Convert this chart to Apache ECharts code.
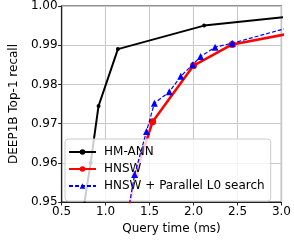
<!DOCTYPE html>
<html><head><meta charset="utf-8">
<script src="https://cdn.jsdelivr.net/npm/echarts@6/dist/echarts.min.js"></script>
<style>html,body{margin:0;padding:0;background:#fff}#c{width:294px;height:241px}</style>
</head><body><div id="c"></div>
<script>
const xTicks = [0.5, 1.0, 1.5, 2.0, 2.5, 3.0];
const yTicks = [0.95, 0.96, 0.97, 0.98, 0.99, 1.00];
const seriesNames = ['HM-ANN', 'HNSW', 'HNSW + Parallel L0 search'];
const hmannX = [0.74, 0.83, 0.92, 1.14, 2.12, 3.1];
const hmannY = [0.947, 0.960, 0.9745, 0.989, 0.995, 0.9973];
const hnswX = [1.26, 1.34, 1.535, 2.0, 2.44, 3.1];
const hnswY = [0.948, 0.957, 0.9705, 0.9848, 0.9902, 0.9930];
const parX = [1.26, 1.33, 1.465, 1.555, 1.725, 1.855, 1.99, 2.08, 2.245, 2.44, 3.1];
const parY = [0.948, 0.957, 0.968, 0.9752, 0.9781, 0.9821, 0.985, 0.9871, 0.9895, 0.9905, 0.9946];

const zip = (a, b) => a.map((v, i) => [v, b[i]]);
const font = 'DejaVu Sans';
const chart = echarts.init(document.getElementById('c'), null, {renderer: 'canvas'});
chart.setOption({
  animation: false,
  grid: {left: 58, right: 6, top: 6, bottom: 39, show: true, borderColor: '#222', borderWidth: 1.2},
  xAxis: {
    type: 'value', min: 0.5, max: 3.0, interval: 0.5,
    name: 'Query time (ms)', nameLocation: 'middle', nameGap: 18,
    nameTextStyle: {fontFamily: font, fontSize: 12, color: '#000'},
    axisLine: {show: true, lineStyle: {color: '#222', width: 1.2}},
    axisTick: {show: true, length: 3.5, lineStyle: {color: '#222'}},
    axisLabel: {fontFamily: font, fontSize: 12, color: '#000', margin: 4, formatter: v => v.toFixed(1)},
    splitLine: {show: true, lineStyle: {color: '#c8c8c8', width: 1}}
  },
  yAxis: {
    type: 'value', min: 0.95, max: 1.0, interval: 0.01,
    name: 'DEEP1B Top-1 recall', nameLocation: 'middle', nameGap: 40,
    nameTextStyle: {fontFamily: font, fontSize: 12, color: '#000'},
    axisLine: {show: true, lineStyle: {color: '#222', width: 1.2}},
    axisTick: {show: true, length: 3.5, lineStyle: {color: '#222'}},
    axisLabel: {fontFamily: font, fontSize: 12, color: '#000', margin: 4, formatter: v => v.toFixed(2)},
    splitLine: {show: true, lineStyle: {color: '#c8c8c8', width: 1}}
  },
  legend: {
    orient: 'vertical', left: 65, top: 139,
    padding: [6, 6, 8, 3], itemGap: 3, itemWidth: 27, itemHeight: 7,
    backgroundColor: 'rgba(255,255,255,0.8)', borderColor: '#cccccc', borderWidth: 1, borderRadius: 3,
    textStyle: {fontFamily: font, fontSize: 12, color: '#000', padding: [0, 0, 0, 3], lineHeight: 14},
    data: seriesNames
  },
  series: [
    {name: seriesNames[0], type: 'line', data: zip(hmannX, hmannY), symbol: 'circle', symbolSize: 4,
     itemStyle: {color: '#000'}, lineStyle: {color: '#000', width: 2}, z: 3},
    {name: seriesNames[1], type: 'line', data: zip(hnswX, hnswY), symbol: 'circle', symbolSize: 7,
     itemStyle: {color: '#ff0000'}, lineStyle: {color: '#ff0000', width: 2.5}, z: 2},
    {name: seriesNames[2], type: 'line', data: zip(parX, parY), symbol: 'triangle', symbolSize: 7,
     itemStyle: {color: '#0000ff'}, lineStyle: {color: '#0000ff', width: 1.2, type: [4, 2]}, z: 4}
  ]
});
</script></body></html>
